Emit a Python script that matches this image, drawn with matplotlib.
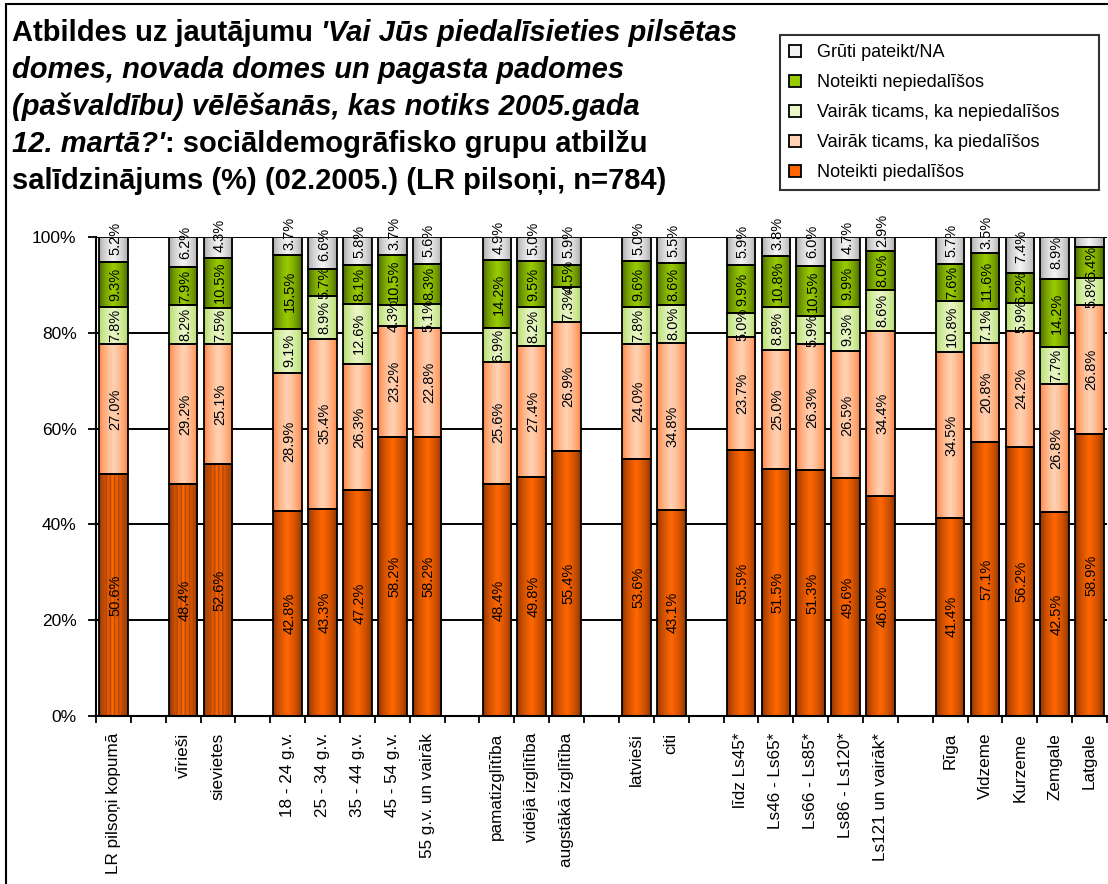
import numpy as np
import matplotlib
matplotlib.use("Agg")
import matplotlib.pyplot as plt
from matplotlib.patches import Patch, Rectangle
from matplotlib.colors import to_rgb

plt.rcParams['font.family'] = ['Liberation Sans', 'DejaVu Sans']

# categories, "" = empty slot between groups
categories = ["LR pilsoņi kopumā", "", "vīrieši", "sievietes", "",
              "18 - 24 g.v.", "25 - 34 g.v.", "35 - 44 g.v.", "45 - 54 g.v.", "55 g.v. un vairāk", "",
              "pamatizglītība", "vidējā izglītība", "augstākā izglītība", "",
              "latvieši", "citi", "",
              "līdz Ls45*", "Ls46 - Ls65*", "Ls66 - Ls85*", "Ls86 - Ls120*", "Ls121 un vairāk*", "",
              "Rīga", "Vidzeme", "Kurzeme", "Zemgale", "Latgale"]

series_names = ["Noteikti piedalīšos", "Vairāk ticams, ka piedalīšos",
                "Vairāk ticams, ka nepiedalīšos", "Noteikti nepiedalīšos", "Grūti pateikt/NA"]

noteikti_piedalisos = [50.6, None, 48.4, 52.6, None, 42.8, 43.3, 47.2, 58.2, 58.2, None,
                       48.4, 49.8, 55.4, None, 53.6, 43.1, None,
                       55.5, 51.5, 51.3, 49.6, 46.0, None, 41.4, 57.1, 56.2, 42.5, 58.9]
ticams_piedalisos = [27.0, None, 29.2, 25.1, None, 28.9, 35.4, 26.3, 23.2, 22.8, None,
                     25.6, 27.4, 26.9, None, 24.0, 34.8, None,
                     23.7, 25.0, 26.3, 26.5, 34.4, None, 34.5, 20.8, 24.2, 26.8, 26.8]
ticams_nepiedalisos = [7.8, None, 8.2, 7.5, None, 9.1, 8.9, 12.6, 4.3, 5.1, None,
                       6.9, 8.2, 7.3, None, 7.8, 8.0, None,
                       5.0, 8.8, 5.9, 9.3, 8.6, None, 10.8, 7.1, 5.9, 7.7, 5.8]
noteikti_nepiedalisos = [9.3, None, 7.9, 10.5, None, 15.5, 5.7, 8.1, 10.5, 8.3, None,
                         14.2, 9.5, 4.5, None, 9.6, 8.6, None,
                         9.9, 10.8, 10.5, 9.9, 8.0, None, 7.6, 11.6, 6.2, 14.2, 6.4]
gruti_pateikt = [5.2, None, 6.2, 4.3, None, 3.7, 6.6, 5.8, 3.7, 5.6, None,
                 4.9, 5.0, 5.9, None, 5.0, 5.5, None,
                 5.9, 3.8, 6.0, 4.7, 2.9, None, 5.7, 3.5, 7.4, 8.9, 2.1]

all_series = [noteikti_piedalisos, ticams_piedalisos, ticams_nepiedalisos,
              noteikti_nepiedalisos, gruti_pateikt]

# (edge colour, centre colour) for the bar gradients
grad_colors = [("#7a2c00", "#ff6600"),
               ("#ff7a33", "#ffd2b4"),
               ("#a9d65a", "#eaf7c8"),
               ("#3d5800", "#99cc00"),
               ("#a0a0a0", "#f4f4f4")]

W, H = 1108, 884
fig = plt.figure(figsize=(W / 100, H / 100), dpi=100)
ax = fig.add_axes([96 / W, 1 - 716 / H, 1011 / W, (716 - 237) / H])

x = np.arange(len(categories))
bw = 0.82
t = np.linspace(0, 1, 40)
prof = (1 - np.abs(2 * t - 1)) ** 0.55

bottom = np.zeros(len(categories))
for si, vals in enumerate(all_series):
    v = np.array([0 if a is None else a for a in vals], dtype=float)
    e, c = np.array(to_rgb(grad_colors[si][0])), np.array(to_rgb(grad_colors[si][1]))
    img = (e[None, :] + (c - e)[None, :] * prof[:, None])[None, :, :]
    bars = ax.bar(x, v, bw, bottom=bottom, color="none", edgecolor="black", linewidth=1.3, zorder=4)
    for i, b in enumerate(bars):
        if vals[i] is None:
            continue
        ax.imshow(img, extent=[b.get_x(), b.get_x() + bw, bottom[i], bottom[i] + v[i]],
                  aspect="auto", interpolation="bilinear", zorder=3)
        if si == 0 and i < 4:
            # striped texture on the first group bottoms
            ax.bar(x[i], v[i], bw, bottom=0, color="none", edgecolor="#b04a10",
                   hatch="||||", linewidth=0, zorder=3.5)
        if si == 4:
            if v[i] < 2.5:
                continue
            yl = 103.5 - 0.75 * v[i]
        else:
            yl = bottom[i] + v[i] / 2
        ax.text(x[i] + 0.05, yl, f"{v[i]:.1f}%", rotation=90, ha="center", va="center",
                fontsize=10.5, zorder=6, clip_on=False)
    bottom += v

ax.set_xlim(-0.5, len(categories) - 0.5)
ax.set_ylim(0, 100)
ax.set_yticks([0, 20, 40, 60, 80, 100])
ax.set_yticklabels([f"{v}%" for v in [0, 20, 40, 60, 80, 100]], fontsize=12.5)
ax.yaxis.grid(True, color="black", linewidth=1.4, zorder=0)
ax.set_axisbelow(True)
ax.set_xticks(x)
ax.set_xticklabels(categories, rotation=90, fontsize=12.3, va="top", ha="center")
ax.set_xticks(np.arange(len(categories) + 1) - 0.5, minor=True)
ax.tick_params(axis="x", which="major", length=0, pad=12)
ax.tick_params(axis="x", which="minor", length=5, width=1.3, direction="out")
ax.tick_params(axis="y", length=6, width=1.3, pad=8)
for s in ["top", "right"]:
    ax.spines[s].set_visible(False)
for s in ["left", "bottom"]:
    ax.spines[s].set_linewidth(1.5)
    ax.spines[s].set_zorder(5)

# title, bold with italic question
fs = 21
lines = [[("Atbildes uz jautājumu ", "normal"), ("'Vai Jūs piedalīsieties pilsētas", "italic")],
         [("domes, novada domes un pagasta padomes", "italic")],
         [("(pašvaldību) vēlēšanās, kas notiks 2005.gada", "italic")],
         [("12. martā?'", "italic"), (": sociāldemogrāfisko grupu atbilžu", "normal")],
         [("salīdzinājums (%) (02.2005.) (LR pilsoņi, n=784)", "normal")]]
baselines = [41, 78, 115, 152, 189]
for parts, yb in zip(lines, baselines):
    prev = fig.text(12 / W, 1 - yb / H, parts[0][0], fontsize=fs, fontweight="bold",
                    style=parts[0][1], va="baseline", ha="left")
    for txt, st in parts[1:]:
        prev = ax.annotate(txt, xy=(1, 0), xycoords=prev, va="bottom", ha="left",
                           fontsize=fs, fontweight="bold", style=st, annotation_clip=False)

# legend
handles = [Patch(facecolor=grad_colors[i][1], edgecolor="black", linewidth=1.3, label=series_names[i])
           for i in [4, 3, 2, 1, 0]]
leg = fig.legend(handles=handles, loc="upper left", mode="expand",
                 bbox_to_anchor=(780 / W, 1 - 193 / H, (1099 - 780) / W, (193 - 35) / H),
                 fontsize=13, frameon=True, fancybox=False, borderpad=0.5,
                 labelspacing=0.72, handlelength=0.65, handleheight=0.65, handletextpad=0.9,
                 borderaxespad=0)
leg.get_frame().set_edgecolor("black")
leg.get_frame().set_linewidth(1.5)

# outer chart border
fig.add_artist(Rectangle((6 / W, -0.05), 1.1, 1 - 4 / H + 0.05, transform=fig.transFigure,
                         fill=False, edgecolor="black", linewidth=1.5))

fig.savefig("out.png", dpi=100)
